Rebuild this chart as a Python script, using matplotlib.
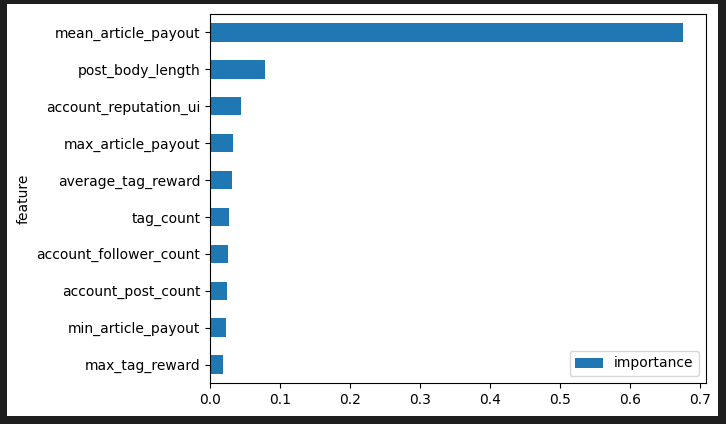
import matplotlib
matplotlib.use("Agg")
import matplotlib.pyplot as plt
from matplotlib.patches import Rectangle

features = ["max_tag_reward", "min_article_payout", "account_post_count",
            "account_follower_count", "tag_count", "average_tag_reward",
            "max_article_payout", "account_reputation_ui", "post_body_length",
            "mean_article_payout"]
importance = [0.0186, 0.0229, 0.0243, 0.0257, 0.0271, 0.0314,
              0.0329, 0.0443, 0.0786, 0.676]
xticks = [0.0, 0.1, 0.2, 0.3, 0.4, 0.5, 0.6, 0.7]

W, H = 726, 424
fig = plt.figure(figsize=(W / 100, H / 100), dpi=100, facecolor="#1e1e1e")
fig.patches.append(Rectangle((7 / W, 8 / H), (718 - 7) / W, (416 - 4) / H,
                             transform=fig.transFigure, facecolor="white",
                             edgecolor="none", zorder=-10))
ax = fig.add_axes([210 / W, (H - 383) / H, (706 - 210) / W, (383 - 14) / H])
ax.set_zorder(5)
pos = list(range(len(features)))
ax.barh(pos, importance, height=0.5, color="#1f77b4", label="importance")
ax.set_yticks(pos)
ax.set_yticklabels(features)
ax.set_xticks(xticks)
ax.set_xticklabels([f"{t:.1f}" for t in xticks])
ax.set_ylim(-0.5, len(features) - 0.5)
ax.set_xlim(0, max(importance) * 1.048)
ax.set_ylabel("feature")
ax.legend(loc="lower right")
fig.savefig("out.png", dpi=100, facecolor=fig.get_facecolor())
